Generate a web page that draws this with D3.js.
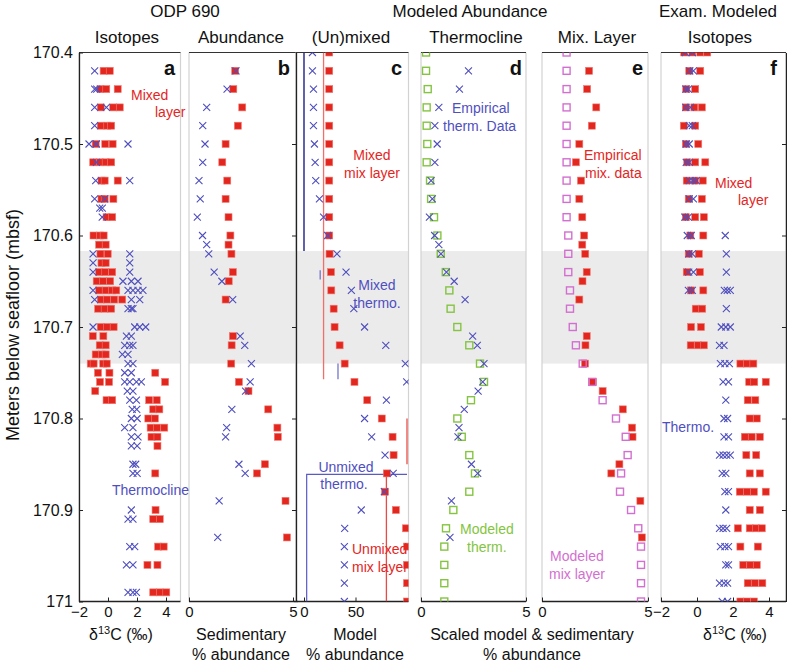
<!DOCTYPE html>
<html><head><meta charset="utf-8">
<script src="https://cdn.jsdelivr.net/npm/d3@7"></script>
<style>body{margin:0;background:#fff;} text{font-family:"Liberation Sans",Arial,sans-serif;}</style>
</head><body>
<svg id="chart" width="787" height="667"></svg>
<script>
// ---------------- DATA ----------------
const yTicks = [170.4, 170.5, 170.6, 170.7, 170.8, 170.9, 171];
const bandDepth = [170.617, 170.74];

// Sedimentary abundance (panel b; also empirical data in d and e)
const depthB = [170.42,170.44,170.46,170.48,170.50,170.52,170.54,170.56,170.58,170.60,170.61,170.62,170.64,170.65,170.67,170.71,170.72,170.74,170.76,170.77,170.79,170.81,170.82,170.85,170.86,170.89,170.93];
const mixAbund = [2.22,2.13,2.56,2.35,1.76,1.60,1.84,1.76,1.90,1.99,1.90,2.04,2.11,1.91,1.76,2.11,2.05,2.03,2.40,2.86,3.81,4.25,4.27,3.65,3.27,4.64,4.71];
const thermAbund = [2.26,1.83,0.85,0.66,0.77,0.66,0.48,0.54,0.40,0.65,0.85,0.95,1.21,1.58,2.10,2.46,2.68,3.00,2.94,2.72,2.06,1.81,1.76,2.40,2.70,1.45,1.38];

// Model depths (panels c, d, e, f)
const depthM = [170.40,170.42,170.44,170.46,170.48,170.50,170.52,170.54,170.56,170.58,170.60,170.62,170.64,170.66,170.68,170.70,170.72,170.74,170.76,170.78,170.80,170.82,170.84,170.86,170.88,170.90,170.92,170.94,170.96,170.98,171.00];
const cMixLayer = [24.5,24.5,24.5,24.5,24.5,24.5,24.5,24.5,24.5,24.5,24.5,24.8,26.2,26.5,28.8,29.7,34.6,39.5,49,61.4,75.5,86,87,80.4,78.7,89.2,99,100,100,100,100];
const cThermo = [8.2,8.2,9.2,9.2,9.2,10.1,10.8,11.4,15,19,23,32,40.8,46,48.4,58.8,79.4,98.4,99.7,80,58.8,65.7,78.7,86.6,78,55.6,39.5,39.2,39.2,39.2,39.2];
const dModelTherm = [0.24,0.24,0.32,0.27,0.27,0.30,0.27,0.43,0.48,0.62,0.78,0.94,1.18,1.35,1.41,1.73,2.30,2.81,3.0,2.38,1.73,1.94,2.30,2.57,2.30,1.54,1.19,1.11,1.11,1.11,1.11];
const eModelMix = [1.16,1.16,1.16,1.16,1.16,1.16,1.16,1.16,1.16,1.16,1.24,1.24,1.24,1.32,1.32,1.45,1.60,1.92,2.37,2.86,3.49,3.95,4.04,3.73,3.68,4.20,4.54,4.67,4.67,4.67,4.67];

// Model line segments in panel c: [value, depthTop, depthBottom]
const mixedThermoLine = [[0,170.4,170.617],[15.7,170.638,170.648],[33,170.74,170.757]];
const mixedMixLine = [[19,170.4,170.757]];
const unmixedThermoPath = [[100,170.861],[2.6,170.861],[2.6,171]];
const unmixedMixLine = [[100,170.80,170.85],[80,170.863,171]];

// Isotopes, ODP 690 (panel a)
const depthA = [170.42,170.44,170.46,170.48,170.50,170.52,170.54,170.56,170.57,170.58,170.60,170.61,170.62,170.63,170.64,170.65,170.66,170.67,170.68,170.70,170.71,170.72,170.73,170.74,170.75,170.76,170.77,170.78,170.79,170.80,170.81,170.82,170.83,170.85,170.86,170.90,170.91,170.94,170.96,170.99];
const isoMixA = [[-0.3,0.12],[-0.52,-0.12,0.67],[-0.5,0.36,0.81],[-0.5,-0.05,0.22],[-0.85,-0.19,0.32],[-1.02,-0.57,-0.16,0.22],[-0.45,-0.23,0.67],[-0.45,-0.23,0.37],[],[-0.1,0.29],[-1.0,-0.55,-0.3],[-0.61,-0.16],[-0.52,-0.02],[-0.45,-0.16],[-0.61,-0.19,0.29],[-0.78,-0.33,0.15],[-0.61,-0.16,0.29,0.57],[-0.5,-0.06,0.43,0.98],[-0.68,-0.23,0.22],[-0.5,-0.06,0.39],[-1.05,-0.32],[-0.57,-0.16],[-0.85,-0.43,-0.16],[-1.19,-0.99,-0.33,-0.09],[-0.69,0.1,3.26],[-0.55,0.07,3.94],[-0.88],[-0.1,0.29,2.84,3.36],[3.12,3.54],[2.78,3.23],[2.94,3.39,3.88],[3.0,3.41],[3.41],[],[3.26],[3.28],[3.12,3.57],[3.46,3.84],[2.72,3.41],[3.12,3.57,4.02]];
const isoThermA = [[-0.92],[-0.92,-0.78],[-0.92,-0.11],[-0.92],[-1.31,-0.8,1.38],[-0.8],[-0.85,1.5],[-0.92,-0.23],[-0.57,-0.39],[-0.4],[],[],[-1.03,1.5],[-1.03,1.5],[-1.03,1.5],[1.03,1.61,2.07],[-1.03,1.38,1.72,2.07,2.41],[-0.92,1.61,2.19],[1.38,1.61,1.72],[-1.03,1.84,2.19,2.6],[1.27,1.61],[1.15,1.5,1.72],[0.99,1.38],[1.38,1.72],[1.15,1.61],[1.15,1.5,1.96,2.3],[1.33,1.72],[1.5,1.96],[1.67,1.98],[1.61,2.01],[1.15,1.72],[1.61,2.07],[1.61,2.01],[1.72,1.91],[1.72,2.01],[1.61],[1.38,1.72],[1.5,1.84],[1.27,1.72],[1.38,1.72,1.96]];

// Examined modeled isotopes (panel f), on depthM
const isoMixF = [[-0.71,-0.26,0.18,0.57],[-0.43,0.18],[-0.6,-0.1],[-0.62,-0.15,0.27],[-0.73,-0.1],[-0.62,0.07],[-0.54,-0.1,0.46],[-0.57,-0.12,0.32],[-0.46,0.27],[-0.62,-0.1,0.38],[-0.37,0.35],[-0.46,0.1],[-0.57,0.16],[-0.34,0.35],[-0.07,0.29],[-0.33,0.22],[-0.35,0.05,0.38],[2.41,2.77,3.13],[2.9,3.18,3.82],[2.82,3.24],[2.93,3.32],[2.66,3.04,3.49],[2.74,3.29],[2.93,3.49],[2.38,2.77,3.16,3.82],[2.93,3.49],[2.27,2.93,3.27,3.6],[2.41,3.38],[2.57,2.96,3.32],[2.82,3.21,3.63],[2.41,2.77,3.16]];
const isoThermF = [[-0.65,-0.26],[-0.4,-0.2],[-0.62,-0.48],[-0.62,-0.37],[-0.43,-0.26],[-0.6,-0.43],[-0.6,-0.43],[-0.43,-0.23,-0.04],[-0.43,-0.2],[-0.68,-0.48],[-0.54,-0.32,1.57],[-0.46,-0.26,1.63],[-0.46,-0.2,1.63],[-0.48,-0.26,1.52,1.68,1.85],[1.63],[1.35,1.6,1.85],[1.25,1.5],[1.3,1.55,1.8],[1.45,1.75],[1.6],[1.5,1.7],[1.5,1.75],[1.25,1.45,1.65,1.85],[1.4,1.6],[1.55,1.75],[1.6],[1.25,1.45,1.65],[1.3,1.55,1.75],[1.6,1.75],[1.25,1.5,1.7],[1.4,1.7]];

// ---------------- DRAWING ----------------
const RED = "#e3261e", BLUE = "#4f4fbf", GREEN = "#84c441", PINK = "#d36fd0";
const svg = d3.select("#chart");
const y = d3.scaleLinear().domain([170.4, 171]).range([52.5, 601.5]);
const Y0 = y.range()[0], Y1 = y.range()[1];
const minusFmt = d => d < 0 ? "\u2212" + Math.abs(d) : String(d);

const panels = [
  {id:"a", x:d3.scaleLinear().domain([-2,5]).range([79,180.5]), l:79, r:180.5, ticks:[-2,0,2,4]},
  {id:"b", x:d3.scaleLinear().domain([0,5]).range([189,293]), l:189, r:296, ticks:[0,5]},
  {id:"c", x:d3.scaleLinear().domain([0,100]).range([304,407]), l:296, r:408.5, ticks:[0,50]},
  {id:"d", x:d3.scaleLinear().domain([0,5]).range([421,526]), l:421, r:526, ticks:[0,5]},
  {id:"e", x:d3.scaleLinear().domain([0,5]).range([542,648]), l:542, r:648, ticks:[0,5]},
  {id:"f", x:d3.scaleLinear().domain([-2,5]).range([661,787]), l:661, r:786, ticks:[-2,0,2,4]}
];
const P = {};
const defs = svg.append("defs");
panels.forEach(p => {
  P[p.id] = p;
  defs.append("clipPath").attr("id","clip-"+p.id).append("rect")
    .attr("x",p.l).attr("y",Y0).attr("width",p.r-p.l).attr("height",Y1-Y0);
  const g = svg.append("g");
  g.append("rect").attr("x",p.l).attr("width",p.r-p.l)
    .attr("y",y(bandDepth[0])).attr("height",y(bandDepth[1])-y(bandDepth[0])).attr("fill","#ebebeb");
  [p.l,p.r].forEach(xx => g.append("line").attr("x1",xx).attr("x2",xx).attr("y1",Y0).attr("y2",Y1)
    .attr("stroke","#d2d2d2").attr("stroke-width",1.2));
  g.append("line").attr("x1",p.l).attr("x2",p.r).attr("y1",Y0).attr("y2",Y0).attr("stroke","#333").attr("stroke-width",1);
  const ax = g.append("g").attr("transform",`translate(0,${Y1})`)
    .call(d3.axisBottom(p.x).tickValues(p.ticks).tickSizeInner(-4).tickSizeOuter(0).tickPadding(5).tickFormat(minusFmt));
  ax.select(".domain").remove();
  ax.selectAll("line").attr("stroke","#222");
  ax.selectAll("text").attr("font-size",15).attr("fill","#111").style("font-family","Liberation Sans, Arial, sans-serif");
  g.append("line").attr("x1",p.l).attr("x2",p.r).attr("y1",Y1).attr("y2",Y1).attr("stroke","#222").attr("stroke-width",1.3);
  p.marks = svg.append("g").attr("clip-path",`url(#clip-${p.id})`);
});
svg.append("line").attr("x1",294).attr("x2",298).attr("y1",Y1).attr("y2",Y1).attr("stroke","#222").attr("stroke-width",1.3);

// y axis (left of a)
const ya = svg.append("g").attr("transform","translate(79,0)")
  .call(d3.axisLeft(y).tickValues(yTicks).tickSizeInner(-4).tickSizeOuter(0).tickPadding(6)
    .tickFormat(d => d === 171 ? "171" : d3.format(".1f")(d)));
ya.select(".domain").attr("stroke","#222").attr("stroke-width",1.3);
ya.selectAll("line").attr("stroke","#222");
ya.selectAll("text").attr("font-size",16).attr("fill","#111").style("font-family","Liberation Sans, Arial, sans-serif");
[296, 786].forEach(xx => {
  const ra = svg.append("g").attr("transform",`translate(${xx},0)`)
    .call(d3.axisRight(y).tickValues(yTicks.slice(1,-1)).tickSizeInner(-4).tickSizeOuter(0).tickFormat(""));
  ra.select(".domain").attr("stroke","#222").attr("stroke-width",1.3);
  ra.selectAll("line").attr("stroke","#222");
});

function squares(g, pts, x, size, fill, stroke, sw) {
  g.selectAll(null).data(pts).enter().append("rect")
    .attr("x", d => x(d[1]) - size/2).attr("y", d => y(d[0]) - size/2)
    .attr("width", size).attr("height", size)
    .attr("fill", fill).attr("stroke", stroke).attr("stroke-width", sw);
}
function crosses(g, pts, x, s) {
  g.selectAll(null).data(pts).enter().append("path")
    .attr("d", d => { const cx = x(d[1]), cy = y(d[0]);
      return `M${cx-s},${cy-s}L${cx+s},${cy+s}M${cx-s},${cy+s}L${cx+s},${cy-s}`; })
    .attr("stroke", BLUE).attr("stroke-width", 1.1).attr("fill","none");
}
const flat = (depths, rows) => depths.flatMap((d,i) => rows[i].map(v => [d,v]));
const pairs = (depths, vals) => depths.map((d,i) => [d, vals[i]]);

squares(P.a.marks, flat(depthA, isoMixA), P.a.x, 7, RED, "#f07b72", 0.6);
crosses(P.a.marks, flat(depthA, isoThermA), P.a.x, 3.5);
squares(P.b.marks, pairs(depthB, mixAbund), P.b.x, 7, RED, "#f07b72", 0.6);
crosses(P.b.marks, pairs(depthB, thermAbund), P.b.x, 3.5);
const cm = P.c.marks, cx = P.c.x;
cm.selectAll(null).data(mixedMixLine).enter().append("line")
  .attr("x1",d=>cx(d[0])).attr("x2",d=>cx(d[0])).attr("y1",d=>y(d[1])).attr("y2",d=>y(d[2]))
  .attr("stroke","#ef6f6a").attr("stroke-width",1.3);
cm.selectAll(null).data(mixedThermoLine).enter().append("line")
  .attr("x1",d=>cx(d[0])).attr("x2",d=>cx(d[0])).attr("y1",d=>y(d[1])).attr("y2",d=>y(d[2]))
  .attr("stroke",(d,i)=> i===0 ? "#3a3a96" : "#6a6ac8").attr("stroke-width",(d,i)=> i===0 ? 1.6 : 1.2);
cm.append("path").attr("d", d3.line().x(d=>cx(d[0])).y(d=>y(d[1]))(unmixedThermoPath))
  .attr("fill","none").attr("stroke","#5a5ac4").attr("stroke-width",1.2);
cm.selectAll(null).data(unmixedMixLine).enter().append("line")
  .attr("x1",d=>cx(d[0])).attr("x2",d=>cx(d[0])).attr("y1",d=>y(d[1])).attr("y2",d=>y(d[2]))
  .attr("stroke","#ea4a44").attr("stroke-width",1.3);
squares(cm, pairs(depthM, cMixLayer), cx, 7, RED, "#f07b72", 0.6);
crosses(cm, pairs(depthM, cThermo), cx, 3.5);
P.d.marks.selectAll(null).data(pairs(depthM, dModelTherm)).enter().append("rect")
  .attr("x", d => P.d.x(d[1]) - 3.5).attr("y", d => y(d[0]) - 3.5).attr("width",7).attr("height",7)
  .attr("fill","none").attr("stroke",GREEN).attr("stroke-width",1.4);
crosses(P.d.marks, pairs(depthB, thermAbund), P.d.x, 3.5);
squares(P.e.marks, pairs(depthB, mixAbund), P.e.x, 7, RED, "#f07b72", 0.6);
P.e.marks.selectAll(null).data(pairs(depthM, eModelMix)).enter().append("rect")
  .attr("x", d => P.e.x(d[1]) - 3.5).attr("y", d => y(d[0]) - 3.5).attr("width",7).attr("height",7)
  .attr("fill","none").attr("stroke",PINK).attr("stroke-width",1.4);
squares(P.f.marks, flat(depthM, isoMixF), P.f.x, 7, RED, "#f07b72", 0.6);
crosses(P.f.marks, flat(depthM, isoThermF), P.f.x, 3.5);

// ---------------- TEXT ----------------
function txt(x, yy, s, o) {
  o = o || {};
  return svg.append("text").attr("x",x).attr("y",yy).text(s)
    .attr("font-size",o.size||14).attr("fill",o.fill||"#111")
    .attr("text-anchor",o.anchor||"start").attr("font-weight",o.weight||"normal");
}
txt(185,17,"ODP 690",{size:17,anchor:"middle"});
txt(470,17,"Modeled Abundance",{size:17,anchor:"middle"});
txt(718,17,"Exam. Modeled",{size:17,anchor:"middle"});
[["Isotopes",127],["Abundance",241],["(Un)mixed",351],["Thermocline",476],["Mix. Layer",597],["Isotopes",720]]
  .forEach(h => txt(h[1],43,h[0],{size:17,anchor:"middle"}));
[["a",175],["b",290],["c",402],["d",522],["e",643],["f",777]]
  .forEach(l => txt(l[1],75,l[0],{size:20,anchor:"end",weight:"bold"}));
txt(131,100,"Mixed",{fill:RED}); txt(155,117,"layer",{fill:RED});
txt(112,495,"Thermocline",{fill:BLUE});
txt(372,160,"Mixed",{fill:RED,anchor:"middle"}); txt(372,178,"mix layer",{fill:RED,anchor:"middle"});
txt(377,290,"Mixed",{fill:BLUE,anchor:"middle"}); txt(377,308,"thermo.",{fill:BLUE,anchor:"middle"});
txt(346,472,"Unmixed",{fill:BLUE,anchor:"middle"}); txt(344,489,"thermo.",{fill:BLUE,anchor:"middle"});
txt(352,554,"Unmixed",{fill:RED}); txt(352,572,"mix layer",{fill:RED});
txt(452,113,"Empirical",{fill:BLUE}); txt(443,131,"therm. Data",{fill:BLUE});
txt(460,534,"Modeled",{fill:GREEN}); txt(467,552,"therm.",{fill:GREEN});
txt(584,160,"Empirical",{fill:RED}); txt(585,178,"mix. data",{fill:RED});
txt(550,561,"Modeled",{fill:PINK}); txt(549,579,"mix layer",{fill:PINK});
txt(715,188,"Mixed",{fill:RED}); txt(738,205,"layer",{fill:RED});
txt(662,432,"Thermo.",{fill:BLUE});
function delta(x, yy) {
  const t = svg.append("text").attr("x",x).attr("y",yy).attr("font-size",16).attr("fill","#111").attr("text-anchor","middle");
  t.append("tspan").text("\u03b4");
  t.append("tspan").attr("font-size",11).attr("dy",-6).text("13");
  t.append("tspan").attr("dy",6).text("C (\u2030)");
}
delta(121,640); delta(735,640);
txt(241,640,"Sedimentary",{size:16,anchor:"middle"}); txt(241,660,"% abundance",{size:16,anchor:"middle"});
txt(355,640,"Model",{size:16,anchor:"middle"}); txt(355,660,"% abundance",{size:16,anchor:"middle"});
txt(532,640,"Scaled model & sedimentary",{size:16,anchor:"middle"}); txt(532,660,"% abundance",{size:16,anchor:"middle"});
svg.append("text").attr("transform","translate(19,325) rotate(-90)").attr("text-anchor","middle")
  .attr("font-size",18).attr("fill","#111").text("Meters below seafloor (mbsf)");
</script>
</body></html>
